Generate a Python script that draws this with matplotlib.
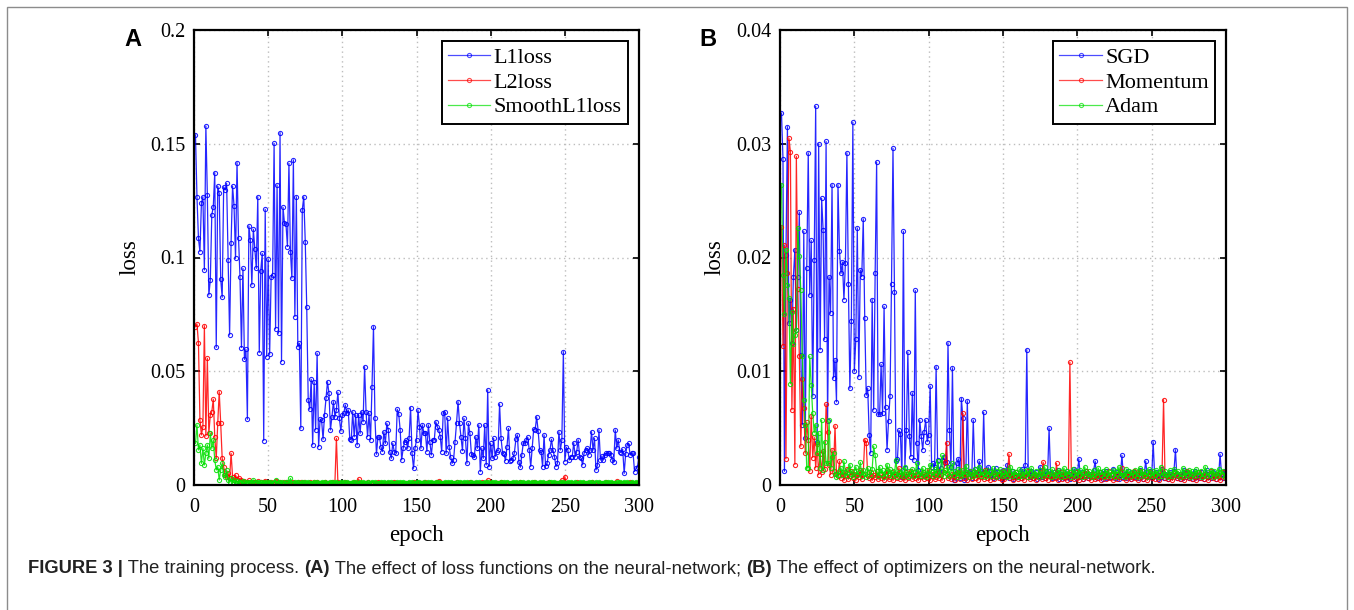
import matplotlib
matplotlib.use("Agg")
import matplotlib.pyplot as plt
from matplotlib.patches import Rectangle
import numpy as np

# config
W, H = 1354, 610
SERIF = "Liberation Serif"
SANS = "Liberation Sans"

# ---- panel A: loss functions ----
l1_loss = [
    0.1539, 0.1267, 0.1084, 0.1026, 0.1238, 0.1267, 0.0945, 0.1578, 0.1275, 0.0835,
    0.0901, 0.1187, 0.1223, 0.1373, 0.0605, 0.1314, 0.1282, 0.0904, 0.0825, 0.1311,
    0.1297, 0.1326, 0.0989, 0.0659, 0.1065, 0.1314, 0.1226, 0.0996, 0.1417, 0.1087,
    0.0916, 0.0604, 0.0952, 0.0552, 0.0596, 0.0289, 0.1139, 0.1077, 0.0879, 0.1124,
    0.1036, 0.0952, 0.1267, 0.0582, 0.0942, 0.1018, 0.0195, 0.1212, 0.0564, 0.0992,
    0.0574, 0.0916, 0.0923, 0.1502, 0.0686, 0.1319, 0.0667, 0.1549, 0.0542, 0.1221,
    0.1150, 0.1147, 0.1048, 0.1414, 0.1026, 0.0909, 0.1429, 0.0740, 0.1267, 0.0608,
    0.0623, 0.0249, 0.1209, 0.1267, 0.1070, 0.0781, 0.0374, 0.0333, 0.0465, 0.0176,
    0.0454, 0.0242, 0.0579, 0.0168, 0.0289, 0.0286, 0.0201, 0.0308, 0.0381, 0.0454,
    0.0403, 0.0242, 0.0300, 0.0366, 0.0300, 0.0330, 0.0407, 0.0293, 0.0237, 0.0308,
    0.0315, 0.0352, 0.0315, 0.0330, 0.0201, 0.0198, 0.0322, 0.0212, 0.0308, 0.0176,
    0.0308, 0.0227, 0.0322, 0.0278, 0.0520, 0.0322, 0.0212, 0.0315, 0.0198, 0.0432,
    0.0696, 0.0293, 0.0135, 0.0210, 0.0212, 0.0168, 0.0147, 0.0234, 0.0183, 0.0271,
    0.0242, 0.0147, 0.0117, 0.0183, 0.0147, 0.0142, 0.0333, 0.0312, 0.0242, 0.0110,
    0.0161, 0.0190, 0.0198, 0.0161, 0.0205, 0.0340, 0.0139, 0.0073, 0.0161, 0.0198,
    0.0330, 0.0256, 0.0161, 0.0264, 0.0227, 0.0230, 0.0147, 0.0264, 0.0190, 0.0132,
    0.0198, 0.0198, 0.0278, 0.0256, 0.0242, 0.0212, 0.0147, 0.0315, 0.0322, 0.0139,
    0.0293, 0.0168, 0.0124, 0.0095, 0.0110, 0.0190, 0.0274, 0.0366, 0.0271, 0.0210,
    0.0151, 0.0293, 0.0205, 0.0095, 0.0271, 0.0227, 0.0136, 0.0132, 0.0122, 0.0212,
    0.0161, 0.0264, 0.0059, 0.0161, 0.0117, 0.0264, 0.0088,
    0.0418, 0.0081, 0.0183, 0.0117, 0.0205, 0.0125, 0.0147, 0.0154, 0.0356, 0.0205,
    0.0142, 0.0136, 0.0107, 0.0169, 0.0249, 0.0107, 0.0110, 0.0117, 0.0142, 0.0201,
    0.0220, 0.0103, 0.0078, 0.0132, 0.0186, 0.0183, 0.0198, 0.0210, 0.0154, 0.0081,
    0.0161, 0.0245, 0.0242, 0.0300, 0.0239, 0.0154, 0.0147, 0.0081, 0.0220, 0.0084,
    0.0095, 0.0132, 0.0154, 0.0201, 0.0154, 0.0125, 0.0081, 0.0095, 0.0234, 0.0154,
    0.0198, 0.0586, 0.0103, 0.0166, 0.0154, 0.0110, 0.0125, 0.0125, 0.0186, 0.0125,
    0.0147, 0.0198, 0.0125, 0.0117, 0.0088, 0.0140, 0.0154, 0.0161, 0.0132, 0.0154,
    0.0234, 0.0154, 0.0205, 0.0066, 0.0088, 0.0242, 0.0110, 0.0127, 0.0110, 0.0132,
    0.0140, 0.0140, 0.0140, 0.0132, 0.0110, 0.0103, 0.0242, 0.0161, 0.0198, 0.0147,
    0.0142, 0.0157, 0.0051, 0.0136, 0.0176, 0.0183, 0.0132, 0.0140, 0.0140, 0.0059,
    0.0073, 0.0081, 0.0125,
]
l2_loss = [
    0.0696, 0.0708, 0.0626, 0.0286, 0.0220, 0.0256, 0.0700, 0.0215, 0.0557, 0.0227,
    0.0308, 0.0322, 0.0377, 0.0212, 0.0117, 0.0271, 0.0410, 0.0271, 0.0117, 0.0080,
    0.0044, 0.0037, 0.0051, 0.0029, 0.0139, 0.0037, 0.0022, 0.0044, 0.0025, 0.0030,
    0.0018, 0.0022, 0.0012, 0.0016, 0.0009, 0.0014, 0.0020, 0.0011, 0.0008, 0.0015,
    0.0012, 0.0007, 0.0017, 0.0010, 0.0013, 0.0006, 0.0011, 0.0019, 0.0009, 0.0012,
    0.0008, 0.0014, 0.0010, 0.0007, 0.0016, 0.0011, 0.0009, 0.0013, 0.0006, 0.0010,
    0.0012, 0.0008, 0.0015, 0.0009, 0.0011, 0.0007, 0.0013, 0.0010, 0.0006, 0.0012,
    0.0009, 0.0011, 0.0007, 0.0014, 0.0008, 0.0010, 0.0006, 0.0012, 0.0009, 0.0007,
    0.0011, 0.0008, 0.0013, 0.0006, 0.0010, 0.0009, 0.0007, 0.0012, 0.0008, 0.0010,
    0.0006, 0.0009, 0.0011, 0.0007, 0.0010, 0.0205, 0.0012, 0.0008, 0.0006, 0.0010,
    0.0008, 0.0011, 0.0007, 0.0009, 0.0006, 0.0010, 0.0008, 0.0012, 0.0007, 0.0009,
    0.0026, 0.0008, 0.0006, 0.0010, 0.0007, 0.0009, 0.0011, 0.0006, 0.0008, 0.0010,
    0.0007, 0.0009, 0.0006, 0.0011, 0.0008, 0.0007, 0.0010, 0.0006, 0.0009, 0.0008,
    0.0010, 0.0007, 0.0006, 0.0009, 0.0011, 0.0007, 0.0008, 0.0006, 0.0010, 0.0008,
    0.0006, 0.0009, 0.0007, 0.0010, 0.0008, 0.0006, 0.0009, 0.0012, 0.0007, 0.0008,
    0.0010, 0.0006, 0.0008, 0.0007, 0.0009, 0.0011, 0.0006, 0.0008, 0.0010, 0.0007,
    0.0009, 0.0006, 0.0008, 0.0011, 0.0018, 0.0007, 0.0009, 0.0006, 0.0010, 0.0008,
    0.0007, 0.0009, 0.0006, 0.0008, 0.0010, 0.0007, 0.0012, 0.0006, 0.0009, 0.0008,
    0.0010, 0.0006, 0.0008, 0.0007, 0.0009, 0.0011, 0.0006, 0.0008, 0.0007, 0.0010,
    0.0008, 0.0006, 0.0009, 0.0012, 0.0007, 0.0008, 0.0010, 0.0022, 0.0006, 0.0009,
    0.0007, 0.0010, 0.0006, 0.0008, 0.0009, 0.0007, 0.0011, 0.0006, 0.0008, 0.0010,
    0.0007, 0.0009, 0.0006, 0.0008, 0.0010, 0.0007, 0.0009, 0.0006, 0.0008, 0.0011,
    0.0007, 0.0009, 0.0006, 0.0010, 0.0008, 0.0007, 0.0009, 0.0006, 0.0012, 0.0008,
    0.0006, 0.0009, 0.0007, 0.0010, 0.0008, 0.0006, 0.0009, 0.0007, 0.0011, 0.0008,
    0.0006, 0.0009, 0.0007, 0.0008, 0.0010, 0.0006, 0.0009, 0.0022, 0.0007, 0.0037,
    0.0008, 0.0006, 0.0010, 0.0007, 0.0009, 0.0006, 0.0008, 0.0011, 0.0007, 0.0009,
    0.0006, 0.0008, 0.0010, 0.0007, 0.0009, 0.0006, 0.0008, 0.0012, 0.0007, 0.0009,
    0.0006, 0.0010, 0.0008, 0.0007, 0.0009, 0.0006, 0.0008, 0.0011, 0.0007, 0.0009,
    0.0006, 0.0008, 0.0010, 0.0007, 0.0016, 0.0006, 0.0009, 0.0008, 0.0007, 0.0010,
    0.0006, 0.0009, 0.0007, 0.0015, 0.0008, 0.0006, 0.0010, 0.0007, 0.0009, 0.0008,
]
smooth_l1_loss = [
    0.0183, 0.0264, 0.0154, 0.0176, 0.0095, 0.0161, 0.0088, 0.0139, 0.0176, 0.0117,
    0.0227, 0.0161, 0.0198, 0.0110, 0.0066, 0.0080, 0.0022, 0.0066, 0.0095, 0.0044,
    0.0037, 0.0066, 0.0022, 0.0015, 0.0030, 0.0012, 0.0020, 0.0009, 0.0016, 0.0011,
    0.0014, 0.0009, 0.0017, 0.0012, 0.0008, 0.0013, 0.0010, 0.0015, 0.0011, 0.0022,
    0.0009, 0.0013, 0.0011, 0.0007, 0.0012, 0.0010, 0.0014, 0.0008, 0.0011, 0.0009,
    0.0013, 0.0010, 0.0008, 0.0012, 0.0020, 0.0009, 0.0011, 0.0007, 0.0012, 0.0010,
    0.0008, 0.0011, 0.0013, 0.0009, 0.0029, 0.0010, 0.0008, 0.0012, 0.0009, 0.0011,
    0.0007, 0.0010, 0.0012, 0.0008, 0.0011, 0.0009, 0.0013, 0.0007, 0.0010, 0.0008,
    0.0012, 0.0009, 0.0011, 0.0007, 0.0010, 0.0013, 0.0008, 0.0011, 0.0009, 0.0007,
    0.0010, 0.0012, 0.0008, 0.0011, 0.0009, 0.0014, 0.0007, 0.0010, 0.0012, 0.0008,
    0.0011, 0.0009, 0.0013, 0.0007, 0.0010, 0.0008, 0.0012, 0.0009, 0.0011, 0.0007,
    0.0010, 0.0012, 0.0008, 0.0011, 0.0009, 0.0007, 0.0013, 0.0010, 0.0008, 0.0011,
    0.0009, 0.0012, 0.0007, 0.0010, 0.0008, 0.0011, 0.0009, 0.0013, 0.0007, 0.0010,
    0.0012, 0.0008, 0.0011, 0.0009, 0.0007, 0.0010, 0.0012, 0.0008, 0.0011, 0.0009,
    0.0013, 0.0007, 0.0010, 0.0008, 0.0012, 0.0009, 0.0011, 0.0007, 0.0010, 0.0013,
    0.0008, 0.0011, 0.0009, 0.0007, 0.0012, 0.0010, 0.0008, 0.0011, 0.0009, 0.0013,
    0.0007, 0.0010, 0.0012, 0.0008, 0.0011, 0.0009, 0.0007, 0.0010, 0.0012, 0.0008,
    0.0011, 0.0009, 0.0013, 0.0007, 0.0010, 0.0008, 0.0012, 0.0009, 0.0011, 0.0007,
    0.0010, 0.0012, 0.0008, 0.0011, 0.0009, 0.0007, 0.0013, 0.0010, 0.0008, 0.0011,
    0.0009, 0.0012, 0.0007, 0.0010, 0.0008, 0.0011, 0.0009, 0.0013, 0.0007, 0.0010,
    0.0012, 0.0008, 0.0011, 0.0009, 0.0007, 0.0010, 0.0012, 0.0008, 0.0011, 0.0009,
    0.0013, 0.0007, 0.0010, 0.0008, 0.0012, 0.0009, 0.0011, 0.0007, 0.0010, 0.0013,
    0.0008, 0.0011, 0.0009, 0.0007, 0.0012, 0.0010, 0.0008, 0.0011, 0.0009, 0.0013,
    0.0007, 0.0010, 0.0012, 0.0008, 0.0011, 0.0009, 0.0007, 0.0010, 0.0012, 0.0008,
    0.0011, 0.0009, 0.0013, 0.0007, 0.0010, 0.0008, 0.0012, 0.0009, 0.0011, 0.0007,
    0.0010, 0.0012, 0.0008, 0.0011, 0.0009, 0.0007, 0.0013, 0.0010, 0.0008, 0.0011,
    0.0009, 0.0012, 0.0007, 0.0010, 0.0008, 0.0011, 0.0009, 0.0013, 0.0007, 0.0010,
    0.0012, 0.0008, 0.0011, 0.0009, 0.0007, 0.0010, 0.0012, 0.0008, 0.0011, 0.0009,
    0.0013, 0.0007, 0.0010, 0.0008, 0.0012, 0.0009, 0.0011, 0.0007, 0.0010, 0.0013,
    0.0008, 0.0011, 0.0009, 0.0007, 0.0012, 0.0010, 0.0008, 0.0011, 0.0009, 0.0012,
]

# ---- panel B: optimizers ----
sgd = [
    0.0327, 0.0287, 0.0012, 0.0202, 0.0315, 0.0142, 0.0163, 0.0125, 0.0183, 0.0207,
    0.0136, 0.0183, 0.0240, 0.0114, 0.0053, 0.0223, 0.0041, 0.0191, 0.0292, 0.0167,
    0.0215, 0.0078, 0.0198, 0.0333, 0.0038, 0.0300, 0.0119, 0.0252, 0.0224, 0.0128,
    0.0302, 0.0056, 0.0183, 0.0151, 0.0264, 0.0094, 0.0110, 0.0073, 0.0264, 0.0206,
    0.0186, 0.0196, 0.0163, 0.0195, 0.0292, 0.0177, 0.0085, 0.0144, 0.0319, 0.0100,
    0.0128, 0.0226, 0.0095, 0.0189, 0.0183, 0.0234, 0.0147, 0.0079, 0.0085, 0.0044,
    0.0028, 0.0163, 0.0066, 0.0186, 0.0284, 0.0062, 0.0062, 0.0106, 0.0063, 0.0157,
    0.0069, 0.0031, 0.0056, 0.0078, 0.0177, 0.0296, 0.0170, 0.0021, 0.0023, 0.0048,
    0.0045, 0.0007, 0.0223, 0.0015, 0.0048, 0.0117, 0.0043, 0.0025, 0.0081, 0.0022,
    0.0171, 0.0037, 0.0013, 0.0057, 0.0043, 0.0031, 0.0047, 0.0057, 0.0038, 0.0044,
    0.0087,
    0.0016, 0.0019, 0.0016, 0.0104, 0.0022, 0.0011, 0.0015, 0.0022, 0.0025,
    0.0019, 0.0020, 0.0125, 0.0048, 0.0016, 0.0103, 0.0004, 0.0010, 0.0019, 0.0023,
    0.0006, 0.0076, 0.0059, 0.0004, 0.0010, 0.0074, 0.0011, 0.0010, 0.0006, 0.0057,
    0.0014, 0.0010, 0.0010, 0.0021, 0.0012, 0.0010, 0.0064, 0.0011, 0.0010, 0.0016,
    0.0008, 0.0012, 0.0006, 0.0010, 0.0015, 0.0007, 0.0011, 0.0009, 0.0005, 0.0013,
    0.0007, 0.0010, 0.0018, 0.0006, 0.0009, 0.0012, 0.0005, 0.0008, 0.0011, 0.0007,
    0.0009, 0.0006, 0.0014, 0.0008, 0.0018, 0.0119, 0.0010, 0.0007, 0.0012, 0.0006,
    0.0009, 0.0011, 0.0005, 0.0008, 0.0016, 0.0007, 0.0010, 0.0006, 0.0012, 0.0009,
    0.0050, 0.0008, 0.0006, 0.0011, 0.0007, 0.0009, 0.0013, 0.0005, 0.0008, 0.0010,
    0.0006, 0.0009, 0.0012, 0.0007, 0.0005, 0.0010, 0.0008, 0.0014, 0.0006, 0.0009,
    0.0023, 0.0007, 0.0011, 0.0005, 0.0009, 0.0012, 0.0006, 0.0008, 0.0010, 0.0007,
    0.0013, 0.0021, 0.0006, 0.0009, 0.0007, 0.0011, 0.0005, 0.0008, 0.0012, 0.0006,
    0.0009, 0.0007, 0.0010, 0.0014, 0.0006, 0.0008, 0.0011, 0.0005, 0.0009, 0.0026,
    0.0007, 0.0010, 0.0006, 0.0012, 0.0008, 0.0005, 0.0009, 0.0011, 0.0007, 0.0010,
    0.0006, 0.0013, 0.0008, 0.0005, 0.0010, 0.0021, 0.0007, 0.0009, 0.0012, 0.0006,
    0.0038, 0.0008, 0.0011, 0.0005, 0.0009, 0.0007, 0.0014, 0.0006, 0.0010, 0.0008,
    0.0005, 0.0011, 0.0007, 0.0009, 0.0012, 0.0031, 0.0006, 0.0008, 0.0010, 0.0005,
    0.0009, 0.0013, 0.0007, 0.0011, 0.0006, 0.0008, 0.0010, 0.0005, 0.0012, 0.0007,
    0.0009, 0.0006, 0.0011, 0.0008, 0.0005, 0.0010, 0.0013, 0.0007, 0.0009, 0.0006,
    0.0011, 0.0008, 0.0005, 0.0010, 0.0007, 0.0027, 0.0009, 0.0006, 0.0012, 0.0008,
]
momentum = [
    0.0227, 0.0122, 0.0211, 0.0023, 0.0186, 0.0305, 0.0293, 0.0066, 0.0155, 0.0018,
    0.0289, 0.0172, 0.0113, 0.0034, 0.0093, 0.0068, 0.0028, 0.0055, 0.0040, 0.0012,
    0.0061, 0.0024, 0.0042, 0.0015, 0.0036, 0.0009, 0.0027, 0.0011, 0.0030, 0.0014,
    0.0071, 0.0047, 0.0018, 0.0009, 0.0031, 0.0012, 0.0052, 0.0010, 0.0008, 0.0021,
    0.0006, 0.0011, 0.0004, 0.0009, 0.0014, 0.0005, 0.0008, 0.0012, 0.0006, 0.0010,
    0.0004, 0.0009, 0.0007, 0.0013, 0.0005, 0.0010, 0.0040, 0.0037, 0.0008, 0.0006,
    0.0011, 0.0004, 0.0009, 0.0007, 0.0012, 0.0005, 0.0010, 0.0006, 0.0008, 0.0004,
    0.0009, 0.0013, 0.0005, 0.0007, 0.0011, 0.0004, 0.0008, 0.0010, 0.0006, 0.0015,
    0.0005, 0.0009, 0.0007, 0.0004, 0.0011, 0.0006, 0.0008, 0.0012, 0.0005, 0.0009,
    0.0006, 0.0010, 0.0004, 0.0008, 0.0007, 0.0011, 0.0005, 0.0009, 0.0006, 0.0013,
    0.0004, 0.0008, 0.0010, 0.0005, 0.0007, 0.0012, 0.0006, 0.0009, 0.0004, 0.0011,
    0.0020, 0.0037, 0.0006, 0.0008, 0.0005, 0.0010, 0.0007, 0.0004, 0.0009, 0.0011,
    0.0005, 0.0008, 0.0063, 0.0006, 0.0010, 0.0004, 0.0007, 0.0012, 0.0005, 0.0009,
    0.0006, 0.0011, 0.0004, 0.0008, 0.0007, 0.0010, 0.0005, 0.0013, 0.0006, 0.0009,
    0.0004, 0.0008, 0.0011, 0.0005, 0.0007, 0.0010, 0.0006, 0.0009, 0.0004, 0.0012,
    0.0005, 0.0008, 0.0010, 0.0027, 0.0006, 0.0009, 0.0004, 0.0007, 0.0011, 0.0005,
    0.0008, 0.0006, 0.0010, 0.0004, 0.0009, 0.0007, 0.0012, 0.0005, 0.0008, 0.0006,
    0.0010, 0.0004, 0.0009, 0.0007, 0.0011, 0.0005, 0.0020, 0.0006, 0.0008, 0.0004,
    0.0010, 0.0007, 0.0005, 0.0009, 0.0006, 0.0019, 0.0004, 0.0008, 0.0011, 0.0005,
    0.0007, 0.0010, 0.0004, 0.0008, 0.0108, 0.0006, 0.0009, 0.0005, 0.0011, 0.0007,
    0.0004, 0.0008, 0.0010, 0.0005, 0.0007, 0.0012, 0.0006, 0.0009, 0.0004, 0.0010,
    0.0007, 0.0005, 0.0009, 0.0006, 0.0011, 0.0004, 0.0008, 0.0010, 0.0005, 0.0007,
    0.0012, 0.0006, 0.0009, 0.0004, 0.0008, 0.0010, 0.0005, 0.0007, 0.0011, 0.0015,
    0.0006, 0.0009, 0.0004, 0.0008, 0.0010, 0.0005, 0.0007, 0.0012, 0.0006, 0.0009,
    0.0004, 0.0012, 0.0008, 0.0005, 0.0010, 0.0007, 0.0004, 0.0009, 0.0011, 0.0006,
    0.0008, 0.0005, 0.0010, 0.0007, 0.0004, 0.0009, 0.0012, 0.0075, 0.0006, 0.0008,
    0.0005, 0.0010, 0.0007, 0.0004, 0.0009, 0.0011, 0.0006, 0.0008, 0.0005, 0.0010,
    0.0007, 0.0004, 0.0009, 0.0012, 0.0006, 0.0008, 0.0005, 0.0010, 0.0007, 0.0004,
    0.0009, 0.0011, 0.0006, 0.0008, 0.0005, 0.0010, 0.0007, 0.0004, 0.0009, 0.0012,
    0.0006, 0.0008, 0.0005, 0.0010, 0.0007, 0.0004, 0.0009, 0.0011, 0.0006, 0.0008,
]
adam = [
    0.0264, 0.0185, 0.0150, 0.0207, 0.0176, 0.0164, 0.0089, 0.0152, 0.0124, 0.0132,
    0.0136, 0.0226, 0.0201, 0.0171, 0.0113, 0.0075, 0.0053, 0.0015, 0.0015, 0.0113,
    0.0088, 0.0063, 0.0046, 0.0053, 0.0028, 0.0046, 0.0015, 0.0057, 0.0013, 0.0038,
    0.0019, 0.0019, 0.0057, 0.0015, 0.0025, 0.0028, 0.0010, 0.0007, 0.0009, 0.0012,
    0.0015, 0.0009, 0.0021, 0.0011, 0.0008, 0.0013, 0.0018, 0.0010, 0.0007, 0.0012,
    0.0016, 0.0009, 0.0011, 0.0020, 0.0008, 0.0013, 0.0010, 0.0007, 0.0015, 0.0011,
    0.0009, 0.0014, 0.0034, 0.0026, 0.0012, 0.0008, 0.0016, 0.0010, 0.0013, 0.0007,
    0.0011, 0.0018, 0.0009, 0.0014, 0.0008, 0.0012, 0.0010, 0.0022, 0.0007, 0.0011,
    0.0009, 0.0013, 0.0008, 0.0016, 0.0010, 0.0007, 0.0012, 0.0009, 0.0014, 0.0008,
    0.0011, 0.0019, 0.0009, 0.0012, 0.0008, 0.0015, 0.0010, 0.0007, 0.0013, 0.0009,
    0.0018, 0.0011, 0.0008, 0.0014, 0.0010, 0.0021, 0.0009, 0.0012, 0.0026, 0.0008,
    0.0013, 0.0010, 0.0016, 0.0008, 0.0011, 0.0019, 0.0009, 0.0012, 0.0007, 0.0014,
    0.0010, 0.0008, 0.0013, 0.0009, 0.0017, 0.0011, 0.0007, 0.0012, 0.0010, 0.0008,
    0.0014, 0.0009, 0.0011, 0.0016, 0.0008, 0.0012, 0.0010, 0.0007, 0.0013, 0.0009,
    0.0011, 0.0008, 0.0015, 0.0010, 0.0007, 0.0012, 0.0009, 0.0014, 0.0008, 0.0011,
    0.0009, 0.0013, 0.0007, 0.0010, 0.0016, 0.0008, 0.0012, 0.0009, 0.0011, 0.0007,
    0.0014, 0.0010, 0.0008, 0.0012, 0.0009, 0.0013, 0.0007, 0.0011, 0.0015, 0.0008,
    0.0010, 0.0012, 0.0009, 0.0007, 0.0013, 0.0010, 0.0008, 0.0016, 0.0011, 0.0009,
    0.0012, 0.0007, 0.0014, 0.0010, 0.0008, 0.0011, 0.0009, 0.0013, 0.0007, 0.0010,
    0.0015, 0.0008, 0.0012, 0.0009, 0.0011, 0.0007, 0.0014, 0.0010, 0.0008, 0.0012,
    0.0009, 0.0013, 0.0007, 0.0011, 0.0016, 0.0008, 0.0010, 0.0012, 0.0009, 0.0007,
    0.0013, 0.0010, 0.0008, 0.0015, 0.0011, 0.0009, 0.0012, 0.0007, 0.0014, 0.0010,
    0.0008, 0.0011, 0.0009, 0.0013, 0.0007, 0.0012, 0.0010, 0.0016, 0.0008, 0.0011,
    0.0009, 0.0007, 0.0014, 0.0010, 0.0012, 0.0008, 0.0011, 0.0009, 0.0013, 0.0007,
    0.0010, 0.0015, 0.0008, 0.0012, 0.0009, 0.0011, 0.0007, 0.0014, 0.0010, 0.0008,
    0.0012, 0.0009, 0.0013, 0.0007, 0.0011, 0.0016, 0.0008, 0.0010, 0.0012, 0.0009,
    0.0007, 0.0013, 0.0010, 0.0008, 0.0014, 0.0011, 0.0009, 0.0012, 0.0007, 0.0010,
    0.0015, 0.0008, 0.0011, 0.0009, 0.0013, 0.0007, 0.0012, 0.0010, 0.0008, 0.0014,
    0.0011, 0.0009, 0.0012, 0.0007, 0.0010, 0.0016, 0.0008, 0.0011, 0.0009, 0.0013,
    0.0007, 0.0012, 0.0010, 0.0008, 0.0014, 0.0011, 0.0009, 0.0012, 0.0007, 0.0010,
]

x_ticks = [0, 50, 100, 150, 200, 250, 300]
a_yticks = [0, 0.05, 0.1, 0.15, 0.2]
a_ylabels = ["0", "0.05", "0.1", "0.15", "0.2"]
b_yticks = [0, 0.01, 0.02, 0.03, 0.04]
b_ylabels = ["0", "0.01", "0.02", "0.03", "0.04"]


def draw_panel(ax, series, labels, yticks, ylabels):
    colors = ["#0000ff", "#ff0000", "#00e000"]
    for ys, lab, c in zip(series, labels, colors):
        xs = np.arange(1, len(ys) + 1)
        ax.plot(xs, ys, color=c, lw=0.9, marker="o", ms=3.0, mfc="none",
                mec=c, mew=0.8, label=lab, alpha=0.85)
    ax.set_xlim(0, 300)
    ax.set_ylim(yticks[0], yticks[-1])
    ax.set_xticks(x_ticks)
    ax.set_xticklabels([str(t) for t in x_ticks])
    ax.set_yticks(yticks)
    ax.set_yticklabels(ylabels)
    ax.grid(True, linestyle=(0, (1, 2.5)), color="#bdbdbd", lw=1.0)
    ax.set_axisbelow(True)
    ax.tick_params(direction="in", top=True, right=True, length=4, width=1.2,
                   labelsize=14.5, pad=6)
    ax.tick_params(axis="x", pad=9)
    for lab in ax.get_xticklabels() + ax.get_yticklabels():
        lab.set_family(SERIF)
    for sp in ax.spines.values():
        sp.set_linewidth(1.6)
    ax.set_xlabel("epoch", family=SERIF, fontsize=16.5)
    ax.set_ylabel("loss", family=SERIF, fontsize=16.5)
    leg = ax.legend(loc="upper right", prop={"family": SERIF, "size": 16},
                    fancybox=False, framealpha=1, edgecolor="black",
                    borderaxespad=0.5, borderpad=0.28, labelspacing=0.19,
                    handlelength=1.9, handletextpad=0.15, numpoints=1)
    leg.get_frame().set_linewidth(1.4)
    for h in leg.get_lines():
        h.set_alpha(0.7)


fig = plt.figure(figsize=(W / 100, H / 100), dpi=100)
ax_a = fig.add_axes([194 / W, 1 - 485 / H, 445 / W, 455 / H])
ax_b = fig.add_axes([780 / W, 1 - 485 / H, 446 / W, 455 / H])

draw_panel(ax_a, [l1_loss, l2_loss, smooth_l1_loss], ["L1loss", "L2loss", "SmoothL1loss"],
           a_yticks, a_ylabels)
draw_panel(ax_b, [sgd, momentum, adam], ["SGD", "Momentum", "Adam"], b_yticks, b_ylabels)

for ax, left, width, lx in ((ax_a, 194, 445, 130), (ax_b, 780, 446, 715)):
    ax.yaxis.set_label_coords((lx - left) / width, 0.5)
    ax.yaxis.label.set_va("center")
    ax.xaxis.set_label_coords(0.5, (485 - 536) / 455)
    ax.xaxis.label.set_va("center")

# panel letters
fig.text(133 / W, 1 - 40 / H, "A", family=SANS, weight="bold", fontsize=17, ha="center", va="center")
fig.text(708 / W, 1 - 40 / H, "B", family=SANS, weight="bold", fontsize=17, ha="center", va="center")

# frame around the figure
fig.add_artist(Rectangle((7 / W, -0.05), 1340 / W, 1 - 7 / H + 0.05, transform=fig.transFigure,
                         fill=False, edgecolor="#8c8c8c", lw=1.0))

# caption, drawn piece by piece on a shared baseline
caption = [
    ("FIGURE 3 |", "bold"),
    (" The training process. ", "normal"),
    ("(A)", "bold"),
    (" The effect of loss functions on the neural-network; ", "normal"),
    ("(B)", "bold"),
    (" The effect of optimizers on the neural-network.", "normal"),
]
renderer = fig.canvas.get_renderer()
cx = 28
for txt, wt in caption:
    t = fig.text(cx / W, 1 - 573 / H, txt, family=SANS, weight=wt, fontsize=13.2,
                 color="#222222", ha="left", va="baseline")
    bb = t.get_window_extent(renderer)
    cx = bb.x1

fig.savefig("out.png", dpi=100)
